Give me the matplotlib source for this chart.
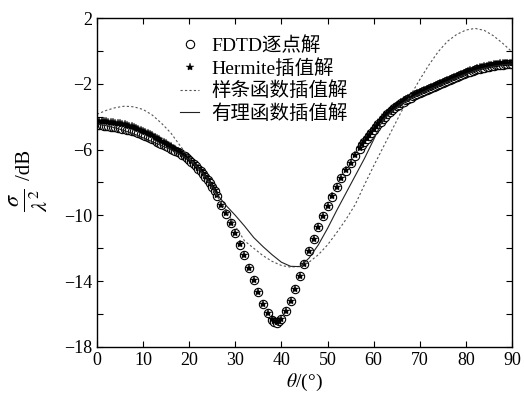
import numpy as np
import matplotlib
matplotlib.use("Agg")
import matplotlib.pyplot as plt

plt.rcParams['font.family'] = ['Liberation Serif', 'Noto Sans CJK SC']
plt.rcParams['mathtext.fontset'] = 'stix'

# 角度网格 (FDTD / Hermite 采样点)
theta_left = np.arange(0, 26.5, 0.5)
theta_mid = [27, 28, 29, 30, 31, 32, 33, 34, 35, 36, 37, 38, 38.5, 39, 39.5,
             40, 41, 42, 43, 44, 45, 46, 47, 48, 49, 50, 51, 52, 53, 54, 55, 56, 57]
theta_right = np.arange(57.5, 90.5, 0.5)
theta_pts = np.concatenate([theta_left, theta_mid, theta_right])

# FDTD逐点解
fdtd_left = [-4.48, -4.50, -4.52, -4.54, -4.56, -4.58, -4.60, -4.62, -4.64, -4.66,
             -4.69, -4.72, -4.75, -4.78, -4.82, -4.86, -4.90, -4.95, -5.00, -5.06,
             -5.12, -5.18, -5.24, -5.30, -5.37, -5.44, -5.51, -5.58, -5.65, -5.72,
             -5.80, -5.87, -5.94, -6.01, -6.08, -6.15, -6.23, -6.31, -6.40, -6.50,
             -6.62, -6.74, -6.87, -7.01, -7.16, -7.32, -7.49, -7.67, -7.86, -8.06,
             -8.28, -8.52, -8.80]
fdtd_mid = [-9.40, -9.90, -10.45, -11.07, -11.78, -12.43, -13.20, -13.95, -14.68, -15.39,
            -15.93, -16.34, -16.46, -16.52, -16.45, -16.30, -15.83, -15.22, -14.51, -13.70,
            -12.95, -12.15, -11.43, -10.70, -10.04, -9.42, -8.86, -8.29, -7.75, -7.28,
            -6.82, -6.38, -5.95]
fdtd_right = [-5.75, -5.55, -5.36, -5.18, -4.99, -4.80, -4.63, -4.46, -4.30, -4.14,
              -4.00, -3.86, -3.73, -3.60, -3.49, -3.38, -3.28, -3.18, -3.09, -3.00,
              -2.92, -2.84, -2.77, -2.70, -2.63, -2.57, -2.50, -2.44, -2.38, -2.32,
              -2.26, -2.20, -2.14, -2.08, -2.02, -1.96, -1.90, -1.84, -1.78, -1.72,
              -1.66, -1.60, -1.54, -1.48, -1.42, -1.36, -1.31, -1.26, -1.21, -1.16,
              -1.12, -1.08, -1.04, -1.01, -0.98, -0.95, -0.92, -0.90, -0.88, -0.86,
              -0.84, -0.83, -0.82, -0.81, -0.80, -0.80]

# Hermite插值解
herm_left = [-4.25, -4.26, -4.27, -4.28, -4.29, -4.30, -4.32, -4.34, -4.36, -4.38,
             -4.41, -4.44, -4.47, -4.51, -4.55, -4.59, -4.64, -4.69, -4.74, -4.80,
             -4.86, -4.92, -4.99, -5.06, -5.13, -5.21, -5.29, -5.37, -5.45, -5.53,
             -5.62, -5.71, -5.80, -5.89, -5.98, -6.07, -6.17, -6.27, -6.37, -6.47,
             -6.58, -6.70, -6.83, -6.97, -7.11, -7.27, -7.44, -7.62, -7.81, -8.01,
             -8.22, -8.46, -8.74]
herm_mid = [-9.38, -9.88, -10.44, -11.06, -11.76, -12.42, -13.18, -13.94, -14.67, -15.38,
            -15.92, -16.33, -16.45, -16.50, -16.44, -16.28, -15.82, -15.21, -14.50, -13.69,
            -12.94, -12.14, -11.42, -10.69, -10.03, -9.41, -8.85, -8.28, -7.73, -7.26,
            -6.80, -6.35, -5.92]
herm_right = [-5.68, -5.48, -5.29, -5.10, -4.91, -4.72, -4.55, -4.38, -4.22, -4.06,
              -3.92, -3.78, -3.65, -3.52, -3.41, -3.30, -3.20, -3.10, -3.01, -2.92,
              -2.84, -2.76, -2.69, -2.62, -2.55, -2.49, -2.42, -2.36, -2.30, -2.24,
              -2.18, -2.12, -2.06, -2.00, -1.94, -1.88, -1.82, -1.76, -1.70, -1.64,
              -1.58, -1.52, -1.46, -1.40, -1.34, -1.28, -1.23, -1.18, -1.13, -1.08,
              -1.04, -1.00, -0.96, -0.93, -0.90, -0.87, -0.84, -0.82, -0.80, -0.78,
              -0.76, -0.75, -0.74, -0.73, -0.72, -0.72]

fdtd = fdtd_left + fdtd_mid + fdtd_right
herm = herm_left + herm_mid + herm_right

# 插值曲线
theta_curve = np.arange(0, 91, 2)
spline = [-3.85, -3.62, -3.45, -3.36, -3.40, -3.56, -3.90, -4.40, -4.98, -5.75,
          -6.50, -7.20, -7.95, -8.80, -9.70, -10.65, -11.55, -12.00, -12.45, -12.80,
          -13.05, -13.15, -13.10, -12.85, -12.40, -11.80, -11.05, -10.25, -9.35, -8.15,
          -7.00, -5.90, -4.80, -3.70, -2.70, -1.75, -0.85, -0.05, 0.58, 1.00,
          1.27, 1.37, 1.25, 0.92, 0.46, -0.05]
rational = [-4.45, -4.55, -4.68, -4.85, -5.05, -5.28, -5.52, -5.76, -6.00, -6.28,
            -6.62, -7.12, -7.75, -8.70, -9.40, -10.00, -10.65, -11.35, -11.90, -12.40,
            -12.85, -13.10, -13.12, -12.60, -11.80, -10.80, -9.70, -8.65, -7.60, -6.55,
            -5.40, -4.20, -3.66, -3.22, -2.88, -2.60, -2.34, -2.10, -1.86, -1.62,
            -1.40, -1.20, -1.04, -0.93, -0.85, -0.79]

fig = plt.figure(figsize=(5.24, 4.01), dpi=100)
ax = fig.add_axes([0.185, 0.135, 0.792, 0.820])

ax.plot(theta_pts, fdtd, 'o', mfc='white', mec='black', ms=6, mew=0.8,
        label='FDTD逐点解')
ax.plot(theta_pts, herm, '*', color='black', ms=6, mew=0.3,
        label='Hermite插值解')
ax.plot(theta_curve, spline, color='#555555', lw=0.8, dashes=(2, 2),
        label='样条函数插值解')
ax.plot(theta_curve, rational, color='#222222', lw=0.8, label='有理函数插值解')

ax.set_xlim(0, 90)
ax.set_ylim(-18, 2)
ax.set_xticks(np.arange(0, 91, 10))
ax.set_yticks([2, -2, -6, -10, -14, -18])
ax.set_yticks([0, -4, -8, -12, -16], minor=True)
ax.tick_params(which='both', direction='in', top=True, right=True,
               length=4, width=0.8, labelsize=13)
for s in ax.spines.values():
    s.set_linewidth(1.0)

ax.set_xlabel(r'$\theta$/(°)', fontsize=14, labelpad=2)

# y轴标题: 分式 + /dB
fig.text(29 / 524, 1 - 200 / 401, r'$\frac{\sigma}{\lambda^{2}}$', rotation=90,
         fontsize=23, ha='center', va='center')
fig.text(26 / 524, 1 - 165 / 401, '/dB', rotation=90,
         fontsize=15, ha='center', va='center')

ax.legend(loc='upper left', bbox_to_anchor=(0.2, 0.945), frameon=False,
          fontsize=14, borderpad=0, handlelength=1.0, handletextpad=0.6,
          labelspacing=0.2, borderaxespad=0)

fig.savefig('out.png', dpi=100)
